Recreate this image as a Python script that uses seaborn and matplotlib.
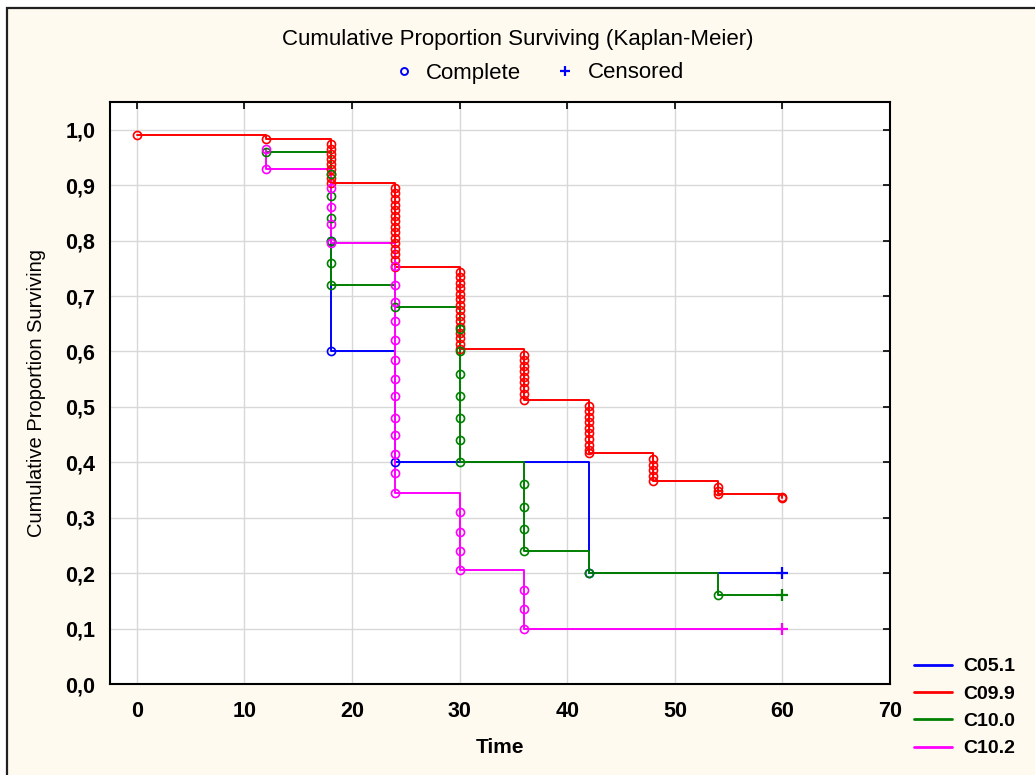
import matplotlib
matplotlib.use("Agg")
import matplotlib.pyplot as plt
from matplotlib.lines import Line2D
from matplotlib.patches import Rectangle
from matplotlib.ticker import FuncFormatter
import seaborn as sns
import pandas as pd

# ---------------- data ----------------
groups = ["C05.1", "C09.9", "C10.0", "C10.2"]
colors = {"C05.1": "#0000FF", "C09.9": "#FF0000", "C10.0": "#008000", "C10.2": "#FF00FF"}

# completed (event) observations: time and cumulative survival after each one
c051_time = [18, 18, 24, 42]
c051_surv = [0.80, 0.60, 0.40, 0.20]

c099_time = [0, 12,
             18, 18, 18, 18, 18, 18, 18, 18, 18,
             24, 24, 24, 24, 24, 24, 24, 24, 24, 24, 24, 24, 24, 24, 24,
             30, 30, 30, 30, 30, 30, 30, 30, 30, 30, 30, 30, 30, 30, 30,
             36, 36, 36, 36, 36, 36, 36, 36, 36,
             42, 42, 42, 42, 42, 42, 42, 42, 42, 42,
             48, 48, 48, 48, 48,
             54, 54, 54,
             60, 60]
c099_surv = [0.990, 0.984,
             0.975, 0.966, 0.957, 0.948, 0.939, 0.930, 0.921, 0.912, 0.904,
             0.895, 0.885, 0.875, 0.865, 0.855, 0.845, 0.835, 0.825, 0.815, 0.805,
             0.795, 0.785, 0.775, 0.765, 0.752,
             0.744, 0.734, 0.724, 0.714, 0.704, 0.694, 0.684, 0.674, 0.664, 0.654,
             0.644, 0.634, 0.624, 0.614, 0.604,
             0.594, 0.584, 0.574, 0.564, 0.554, 0.544, 0.534, 0.524, 0.512,
             0.502, 0.492, 0.482, 0.472, 0.462, 0.452, 0.442, 0.432, 0.422, 0.416,
             0.406, 0.396, 0.386, 0.376, 0.366,
             0.356, 0.348, 0.342,
             0.338, 0.335]

c100_time = [12, 18, 18, 18, 18, 18, 18, 24,
             30, 30, 30, 30, 30, 30, 30,
             36, 36, 36, 36, 42, 54]
c100_surv = [0.960, 0.920, 0.880, 0.840, 0.800, 0.760, 0.720, 0.680,
             0.640, 0.600, 0.560, 0.520, 0.480, 0.440, 0.400,
             0.360, 0.320, 0.280, 0.240, 0.200, 0.160]

c102_time = [12, 12, 18, 18, 18, 18,
             24, 24, 24, 24, 24, 24, 24, 24, 24, 24, 24, 24, 24,
             30, 30, 30, 30, 36, 36, 36]
c102_surv = [0.965, 0.930, 0.895, 0.860, 0.830, 0.795,
             0.755, 0.720, 0.690, 0.655, 0.620, 0.585, 0.550, 0.520, 0.480,
             0.450, 0.415, 0.380, 0.345,
             0.310, 0.275, 0.240, 0.205, 0.170, 0.135, 0.100]

# censored observations (end of follow-up)
cens_group = ["C05.1", "C10.0", "C10.2"]
cens_time = [60, 60, 60]
cens_surv = [0.20, 0.16, 0.10]

xticks = [0, 10, 20, 30, 40, 50, 60, 70]
yticks = [0.0, 0.1, 0.2, 0.3, 0.4, 0.5, 0.6, 0.7, 0.8, 0.9, 1.0]

events = {"C05.1": (c051_time, c051_surv), "C09.9": (c099_time, c099_surv),
          "C10.0": (c100_time, c100_surv), "C10.2": (c102_time, c102_surv)}

# ---------------- figure ----------------
sns.set_theme(style="white")
plt.rcParams["font.family"] = ["Liberation Sans", "DejaVu Sans"]
plt.rcParams["text.color"] = "black"
plt.rcParams["axes.labelcolor"] = "black"
plt.rcParams["xtick.color"] = "black"
plt.rcParams["ytick.color"] = "black"

cream = "#FFFAF0"
fig = plt.figure(figsize=(10.35, 7.75), dpi=100)
fig.patch.set_facecolor("white")
fig.patches.append(Rectangle((6.5 / 1035, -0.01), 1.02, (775 - 7.5) / 775 + 0.01,
                             transform=fig.transFigure, facecolor=cream,
                             edgecolor="#202020", linewidth=1.6, zorder=-10))
ax = fig.add_axes([110 / 1035, (775 - 684) / 775, (890 - 110) / 1035, (684 - 102) / 775])
ax.set_facecolor("white")

for g in groups:
    t, s = events[g]
    lt = list(t)
    ls = list(s)
    if g in cens_group:
        i = cens_group.index(g)
        lt.append(cens_time[i])
        ls.append(cens_surv[i])
    dline = pd.DataFrame({"Time": lt, "S": ls})
    sns.lineplot(data=dline, x="Time", y="S", ax=ax, color=colors[g],
                 estimator=None, sort=False, drawstyle="steps-post",
                 linewidth=1.4, legend=False, zorder=3)
    dev = pd.DataFrame({"Time": t, "S": s})
    sns.lineplot(data=dev, x="Time", y="S", ax=ax, color=colors[g],
                 estimator=None, sort=False, linestyle="", marker="o",
                 markersize=5.8, fillstyle="none", markeredgecolor=colors[g],
                 markeredgewidth=1.2, legend=False, zorder=4)

dc = pd.DataFrame({"Time": cens_time, "S": cens_surv, "g": cens_group})
for g in cens_group:
    sub = dc[dc["g"] == g]
    sns.lineplot(data=sub, x="Time", y="S", ax=ax, color=colors[g],
                 estimator=None, linestyle="", marker="+", markersize=8,
                 markeredgecolor=colors[g], markeredgewidth=1.6,
                 legend=False, zorder=5)

ax.set_xlim(-2.5, 70)
ax.set_ylim(0, 1.05)
ax.set_xticks(xticks)
ax.set_yticks(yticks)
ax.yaxis.set_major_formatter(FuncFormatter(lambda v, p: f"{v:.1f}".replace(".", ",")))
ax.grid(True, color="#D8D8D8", linewidth=1.0, zorder=0)
ax.set_axisbelow(True)
for sp in ax.spines.values():
    sp.set_color("black")
    sp.set_linewidth(1.5)
ax.tick_params(direction="in", length=5, width=1.2, top=True, right=True,
               colors="black", labelcolor="black", labelsize=15.5)
ax.tick_params(axis="x", pad=12)
ax.tick_params(axis="y", pad=10.5)
for lab in ax.get_xticklabels() + ax.get_yticklabels():
    lab.set_fontweight("bold")
ax.set_xlabel("Time", fontsize=15, fontweight="bold", labelpad=12, color="black")
ax.set_ylabel("Cumulative Proportion Surviving", fontsize=14.5, labelpad=14, color="black")

fig.text(0.5, 1 - 40 / 775, "Cumulative Proportion Surviving (Kaplan-Meier)",
         ha="center", va="center", fontsize=16, color="black")

top_handles = [Line2D([], [], linestyle="", marker="o", markersize=5, fillstyle="none",
                      markeredgecolor="#0000FF", markeredgewidth=1.4),
               Line2D([], [], linestyle="", marker="+", markersize=7,
                      markeredgecolor="#0000FF", markeredgewidth=1.6)]
leg1 = fig.legend(top_handles, ["Complete", "Censored"], loc="center",
                  bbox_to_anchor=(537 / 1035, 1 - 73 / 775), ncol=2, frameon=False,
                  fontsize=16, handletextpad=0.4, columnspacing=1.4, handlelength=1.2)
for tx in leg1.get_texts():
    tx.set_color("black")

grp_handles = [Line2D([], [], color=colors[g], linewidth=2) for g in groups]
leg2 = fig.legend(grp_handles, groups, loc="upper left", bbox_to_anchor=(904 / 1035, 1 - 648 / 775),
                  frameon=False, prop={"size": 14, "weight": "bold"}, handlelength=1.95,
                  handletextpad=0.6, labelspacing=0.5, borderpad=0)
for tx in leg2.get_texts():
    tx.set_color("black")

fig.savefig("out.png", dpi=100, facecolor=fig.get_facecolor())
